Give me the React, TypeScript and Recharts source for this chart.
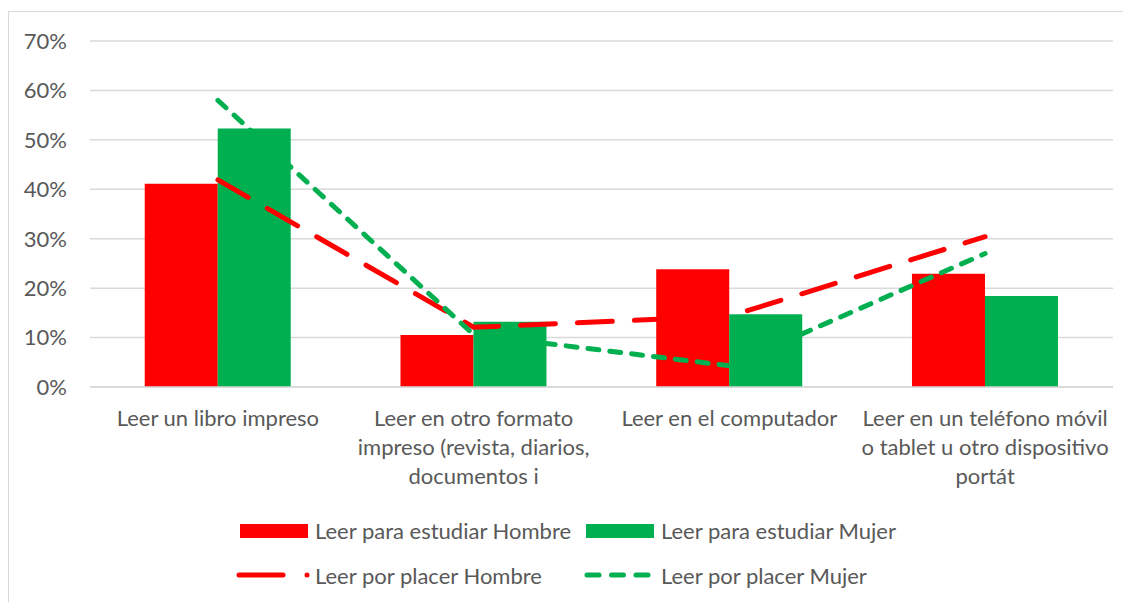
import { ComposedChart, Bar, Line, XAxis, YAxis, CartesianGrid, Legend } from "recharts";

const categories = [
  "Leer un libro impreso",
  "Leer en otro formato impreso (revista, diarios, documentos i",
  "Leer en el computador",
  "Leer en un teléfono móvil o tablet u otro dispositivo portát",
];
const categoryLines = [
  ["Leer un libro impreso"],
  ["Leer en otro formato", "impreso (revista, diarios,", "documentos i"],
  ["Leer en el computador"],
  ["Leer en un teléfono móvil", "o tablet u otro dispositivo", "portát"],
];
const estudiarHombre = [41.1, 10.5, 23.8, 22.9];
const estudiarMujer = [52.3, 13.2, 14.7, 18.4];
const placerHombre = [41.9, 12.1, 14.3, 30.4];
const placerMujer = [58.0, 10.6, 4.3, 27.0];
const yTicks = [0, 10, 20, 30, 40, 50, 60, 70];

const data = categories.map((name, i) => ({
  name,
  estudiarHombre: estudiarHombre[i],
  estudiarMujer: estudiarMujer[i],
  placerHombre: placerHombre[i],
  placerMujer: placerMujer[i],
}));

const FONT = "Lato, 'Open Sans', sans-serif";
const TXT = "#595959";
const RED = "#ff0000";
const GREEN = "#00b050";

const CategoryTick = (props: any) => {
  const { x, y, payload } = props;
  const lines = categoryLines[payload.index] || [payload.value];
  return (
    <text x={x} y={y} textAnchor="middle" fill={TXT} fontSize={22} fontFamily={FONT}>
      {lines.map((l, i) => (
        <tspan key={i} x={x} y={y + 31 + i * 29}>
          {l}
        </tspan>
      ))}
    </text>
  );
};

// legend drawn as svg, row 1 bars, row 2 lines
const LegendBox = () => {
  const label = (x: number, y: number, s: string) => (
    <text x={x} y={y} fill={TXT} fontSize={22} fontFamily={FONT} dominantBaseline="central">
      {s}
    </text>
  );
  return (
    <svg width={1123} height={90} style={{ display: "block" }}>
      <rect x={232} y={12} width={68} height={14} fill={RED} />
      {label(307, 18, "Leer para estudiar Hombre")}
      <rect x={578} y={12} width={68} height={14} fill={GREEN} />
      {label(653, 18, "Leer para estudiar Mujer")}
      <line x1={231} y1={63} x2={275} y2={63} stroke={RED} strokeWidth={5} strokeLinecap="round" />
      <circle cx={299} cy={63} r={2.5} fill={RED} />
      {label(307, 63, "Leer por placer Hombre")}
      <line
        x1={579}
        y1={63}
        x2={642}
        y2={63}
        stroke={GREEN}
        strokeWidth={5}
        strokeLinecap="round"
        strokeDasharray="12 12.5"
      />
      {label(653, 63, "Leer por placer Mujer")}
    </svg>
  );
};

export default function App() {
  return (
    <div style={{ position: "relative", width: 1123, height: 594, overflow: "hidden" }}>
      <div
        style={{
          position: "absolute",
          left: 0,
          top: 3,
          width: 1200,
          height: 700,
          borderLeft: "1px solid #d9d9d9",
          borderTop: "1px solid #d9d9d9",
          boxSizing: "border-box",
        }}
      />
      <ComposedChart
        width={1123}
        height={594}
        data={data}
        margin={{ top: 33, right: 18, left: 0, bottom: 0 }}
        barGap={0}
        barCategoryGap="21.4%"
      >
        <CartesianGrid vertical={false} stroke="#d9d9d9" strokeWidth={1.5} />
        <XAxis
          dataKey="name"
          tick={<CategoryTick />}
          tickLine={false}
          axisLine={{ stroke: "#d9d9d9", strokeWidth: 1.5 }}
          height={125}
          interval={0}
        />
        <YAxis
          width={82}
          domain={[0, 70]}
          ticks={yTicks}
          tickFormatter={(v: number) => `${v}%`}
          tickLine={false}
          axisLine={false}
          tickSize={0}
          tickMargin={23}
          tick={{ fill: TXT, fontSize: 22, fontFamily: FONT }}
        />
        <Legend verticalAlign="bottom" height={90} content={() => <LegendBox />} />
        <Bar dataKey="estudiarHombre" name="Leer para estudiar Hombre" fill={RED} isAnimationActive={false} />
        <Bar dataKey="estudiarMujer" name="Leer para estudiar Mujer" fill={GREEN} isAnimationActive={false} />
        <Line
          dataKey="placerHombre"
          name="Leer por placer Hombre"
          stroke={RED}
          strokeWidth={5}
          strokeLinecap="round"
          strokeDasharray="35 22"
          dot={false}
          activeDot={false}
          isAnimationActive={false}
        />
        <Line
          dataKey="placerMujer"
          name="Leer por placer Mujer"
          stroke={GREEN}
          strokeWidth={5}
          strokeLinecap="round"
          strokeDasharray="11 11"
          dot={false}
          activeDot={false}
          isAnimationActive={false}
        />
      </ComposedChart>
    </div>
  );
}
